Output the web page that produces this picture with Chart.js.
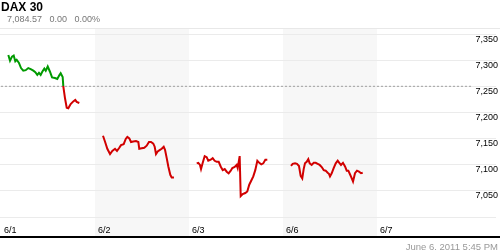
<!DOCTYPE html>
<html>
<head>
<meta charset="utf-8">
<script src="https://cdn.jsdelivr.net/npm/chart.js@4"></script>
<style>
  body { margin: 0; background: #fff; font-family: "Liberation Sans", Arial, sans-serif; }
  #wrap { position: relative; width: 500px; height: 250px; overflow: hidden; }
  #title { position: absolute; left: 1px; top: 0px; font-weight: bold; font-size: 12px; color: #000; }
  #quote { position: absolute; left: 7px; top: 14px; font-size: 9px; color: #777; white-space: pre; }
  #stamp { position: absolute; right: 2px; top: 241px; font-size: 9.5px; color: #999; }
</style>
</head>
<body>
<div id="wrap">
  <canvas id="daxChart" width="500" height="250"></canvas>
  <div id="title">DAX 30</div>
  <div id="quote">7,084.57   0.00   0.00%</div>
  <div id="stamp">June 6, 2011 5:45 PM</div>
</div>
<script>
"use strict";

var dayLabels = ["6/1", "6/2", "6/3", "6/6", "6/7"];
var shadedDays = [1, 3];
var yTicks = [7000, 7050, 7100, 7150, 7200, 7250, 7300, 7350];
var prevClose = 7251;

// time = fraction of the day column, level = index value
var day1Time = [0.078, 0.096, 0.117, 0.135, 0.152, 0.167, 0.191, 0.213, 0.237, 0.263, 0.29, 0.316, 0.344, 0.365, 0.386, 0.404, 0.422, 0.439, 0.461, 0.476, 0.497, 0.521, 0.543, 0.574, 0.599, 0.62, 0.635, 0.656, 0.663, 0.681, 0.699, 0.716, 0.741, 0.769, 0.79, 0.805, 0.833];
var day1Level = [7311, 7300, 7308, 7310, 7299, 7302, 7296, 7286, 7281, 7282, 7286, 7284, 7281, 7278, 7273, 7277, 7273, 7279, 7285, 7281, 7289, 7279, 7268, 7267, 7265, 7272, 7276, 7269, 7251, 7228, 7210, 7209, 7217, 7222, 7225, 7221, 7219];

var day2Time = [0.085, 0.106, 0.131, 0.16, 0.184, 0.213, 0.234, 0.255, 0.277, 0.305, 0.327, 0.344, 0.365, 0.383, 0.407, 0.436, 0.461, 0.471, 0.497, 0.524, 0.55, 0.574, 0.596, 0.62, 0.635, 0.649, 0.667, 0.691, 0.71, 0.731, 0.745, 0.763, 0.78, 0.801, 0.816, 0.84];
var day2Level = [7156, 7145, 7131, 7121, 7127, 7131, 7127, 7132, 7138, 7140, 7150, 7154, 7151, 7144, 7145, 7146, 7144, 7131, 7132, 7133, 7137, 7144, 7144, 7141, 7135, 7121, 7126, 7129, 7131, 7135, 7129, 7113, 7097, 7081, 7076, 7076];

var day3Time = [0.082, 0.099, 0.117, 0.128, 0.146, 0.167, 0.188, 0.205, 0.231, 0.252, 0.273, 0.295, 0.316, 0.337, 0.359, 0.38, 0.401, 0.422, 0.444, 0.461, 0.486, 0.507, 0.518, 0.539, 0.55, 0.571, 0.599, 0.62, 0.641, 0.663, 0.684, 0.705, 0.727, 0.748, 0.769, 0.79, 0.812, 0.833];
var day3Level = [7103, 7104, 7100, 7092, 7104, 7117, 7115, 7108, 7110, 7113, 7108, 7106, 7106, 7097, 7090, 7092, 7087, 7084, 7089, 7094, 7096, 7100, 7094, 7117, 7040, 7044, 7046, 7049, 7062, 7070, 7078, 7090, 7108, 7104, 7101, 7103, 7110, 7110];

var day4Time = [0.085, 0.103, 0.128, 0.149, 0.17, 0.188, 0.205, 0.22, 0.234, 0.252, 0.269, 0.284, 0.305, 0.327, 0.348, 0.369, 0.39, 0.412, 0.433, 0.454, 0.475, 0.489, 0.5, 0.518, 0.539, 0.561, 0.582, 0.599, 0.617, 0.638, 0.66, 0.678, 0.695, 0.71, 0.727, 0.745, 0.766, 0.787, 0.809, 0.83, 0.848];
var day4Level = [7098, 7102, 7103, 7102, 7098, 7079, 7074, 7092, 7103, 7106, 7111, 7103, 7100, 7104, 7104, 7102, 7100, 7096, 7090, 7089, 7085, 7083, 7078, 7084, 7094, 7103, 7108, 7104, 7100, 7104, 7097, 7089, 7089, 7083, 7076, 7068, 7084, 7089, 7087, 7084, 7085];

var sessions = [
  { day: 0, time: day1Time, level: day1Level },
  { day: 1, time: day2Time, level: day2Level },
  { day: 2, time: day3Time, level: day3Level },
  { day: 3, time: day4Time, level: day4Level },
];

// green above the previous close, red below it
function lineColor(context) {
  var chart = context.chart;
  var area = chart.chartArea;
  if (!area) return "#cc0000";
  var y = chart.scales.y.getPixelForValue(prevClose);
  var stop = Math.min(Math.max((y - area.top) / (area.bottom - area.top), 0), 1);
  var grad = chart.ctx.createLinearGradient(0, area.top, 0, area.bottom);
  grad.addColorStop(0, "#009a00");
  grad.addColorStop(stop, "#009a00");
  grad.addColorStop(stop, "#d10000");
  grad.addColorStop(1, "#d10000");
  return grad;
}

var datasets = sessions.map(function (s) {
  return {
    data: s.time.map(function (t, i) {
      return { x: s.day + t, y: s.level[i] };
    }),
    borderColor: lineColor,
    borderWidth: 2,
  };
});

datasets.push({
  data: [
    { x: 0, y: prevClose },
    { x: dayLabels.length, y: prevClose },
  ],
  borderColor: "#a0a0a0",
  borderWidth: 1,
  borderDash: [2, 2],
});

var backdrop = {
  id: "backdrop",
  beforeDraw: function (chart) {
    var ctx = chart.ctx;
    var x = chart.scales.x;
    var area = chart.chartArea;
    var bottom = area.bottom + 19;
    ctx.save();
    ctx.fillStyle = "#f7f7f7";
    shadedDays.forEach(function (d) {
      var l = x.getPixelForValue(d);
      var r = x.getPixelForValue(d + 1);
      ctx.fillRect(l, area.top, r - l, bottom - area.top);
    });
    ctx.fillStyle = "#e8e8e8";
    ctx.fillRect(0, area.top, chart.width, 1);
    ctx.fillStyle = "#000";
    ctx.fillRect(0, bottom, chart.width, 2);
    ctx.restore();
  },
};

Chart.defaults.font.family = "'Liberation Sans', Arial, sans-serif";
Chart.defaults.font.size = 9;
Chart.defaults.color = "#000";

var daxChart = new Chart(document.getElementById("daxChart").getContext("2d"), {
  type: "line",
  data: { datasets: datasets },
  plugins: [backdrop],
  options: {
    responsive: false,
    animation: false,
    layout: { padding: { top: 28, bottom: 14.2, left: 0, right: 0 } },
    elements: { point: { radius: 0 }, line: { tension: 0 } },
    plugins: { legend: { display: false }, tooltip: { enabled: false } },
    scales: {
      x: {
        type: "linear",
        min: -1 / 94,
        max: -1 / 94 + 496 / 94,
        grid: { display: false, drawTicks: true, tickLength: 8 },
        border: { display: false },
        afterBuildTicks: function (scale) {
          scale.ticks = dayLabels.map(function (l, i) {
            return { value: i };
          });
        },
        ticks: {
          padding: 0,
          align: "start",
          labelOffset: 3,
          maxRotation: 0,
          autoSkip: false,
          callback: function (v) {
            return dayLabels[v] || "";
          },
        },
      },
      y: {
        position: "right",
        min: 7000,
        max: 7363,
        grid: { color: "#ebebeb", drawTicks: false },
        border: { display: false },
        afterBuildTicks: function (scale) {
          scale.ticks = yTicks.map(function (v) {
            return { value: v };
          });
        },
        ticks: {
          mirror: true,
          padding: 2,
          labelOffset: 5,
          callback: function (v) {
            return v === yTicks[0] ? "" : v.toLocaleString("en-US");
          },
        },
      },
    },
  },
});
</script>
</body>
</html>
